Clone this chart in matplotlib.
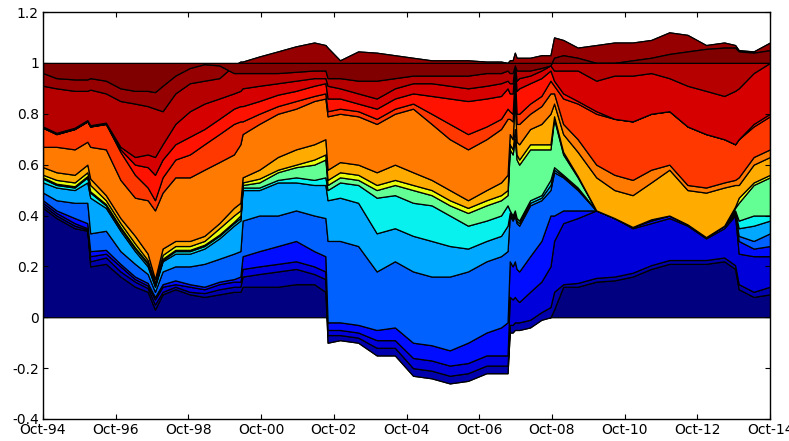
import numpy as np
import matplotlib
matplotlib.use("Agg")
import matplotlib.pyplot as plt

plt.rcParams['font.family'] = ['DejaVu Sans']

# sample dates (fractional years)
years = [1994.75, 1995.12, 1995.62, 1995.97, 1996.05, 1996.48, 1996.88, 1997.28, 1997.63, 1997.83,
         1998.04, 1998.39, 1998.79, 1999.19, 1999.60, 2000.00, 2000.18, 2000.24, 2000.70, 2001.21,
         2001.71, 2002.21, 2002.52, 2002.58, 2002.92, 2003.42, 2003.93, 2004.43, 2004.93, 2005.44,
         2005.94, 2006.44, 2006.95, 2007.35, 2007.53, 2007.59, 2007.67, 2007.73, 2007.78, 2007.85,
         2008.15, 2008.46, 2008.71,
         2008.81, 2009.06, 2009.46, 2009.97, 2010.47, 2010.97, 2011.48, 2011.98, 2012.48, 2012.99,
         2013.49, 2013.79, 2013.89, 2014.30, 2014.75]

# cumulative weight levels, one array per asset (bottom asset first)
b01 = [.43, .39, .35, .34, .20, .21, .16, .12, .10, .03,
       .09, .11, .09, .08, .09, .10, .10, .12, .12, .12,
       .13, .13, .10, -.10, -.09, -.10, -.15, -.15, -.23, -.24,
       -.26, -.25, -.22, -.22, -.22, -.06, -.06, -.05, -.05, -.05,
       -.04, -.01, .00,
       .03, .12, .12, .14, .145, .16, .19, .21, .21, .21,
       .22, .19, .11, .08, .09]
b02 = [.44, .40, .36, .345, .22, .235, .18, .14, .115, .05,
       .10, .12, .10, .095, .11, .12, .12, .16, .17, .18,
       .19, .17, .15, -.07, -.07, -.08, -.12, -.12, -.20, -.21,
       -.23, -.22, -.19, -.19, -.19, -.03, -.03, -.02, -.02, -.02,
       -.01, .02, .04,
       .10, .13, .135, .155, .16, .175, .205, .225, .225, .225,
       .235, .205, .13, .10, .12]
b03 = [.45, .41, .37, .35, .24, .25, .20, .15, .125, .07,
       .12, .13, .12, .11, .13, .14, .14, .19, .20, .21,
       .22, .20, .18, -.05, -.05, -.06, -.09, -.09, -.16, -.17,
       -.19, -.18, -.15, -.15, -.15, .08, .07, .08, .07, .06,
       .10, .14, .20,
       .30, .37, .39, .42, .39, .35, .37, .39, .36, .31,
       .35, .40, .25, .24, .24]
b04 = [.46, .42, .39, .37, .26, .265, .21, .16, .135, .08,
       .13, .145, .13, .12, .14, .15, .16, .24, .26, .28,
       .30, .26, .24, -.02, -.02, -.03, -.05, -.04, -.10, -.11,
       -.13, -.10, -.06, -.04, -.02, .22, .20, .22, .19, .18,
       .24, .30, .40,
       .40, .42, .42, .42, .39, .355, .38, .40, .365, .315,
       .36, .405, .30, .27, .28]
b05 = [.49, .46, .45, .45, .33, .34, .26, .21, .17, .10,
       .18, .20, .20, .21, .23, .25, .26, .38, .40, .40,
       .42, .40, .39, .30, .30, .28, .18, .22, .18, .16,
       .16, .18, .22, .24, .26, .40, .38, .40, .37, .36,
       .44, .46, .50,
       .57, .55, .50, .42, .39, .355, .385, .40, .365, .315,
       .36, .41, .32, .30, .33]
b06 = [.53, .51, .50, .53, .47, .43, .34, .26, .20, .12,
       .22, .25, .25, .27, .31, .36, .38, .50, .50, .53,
       .53, .52, .52, .46, .47, .45, .33, .35, .32, .30,
       .28, .27, .30, .32, .36, .41, .39, .41, .38, .37,
       .45, .47, .52,
       .58, .555, .505, .42, .39, .355, .385, .40, .365, .315,
       .36, .415, .35, .36, .38]
b07 = [.545, .52, .51, .55, .49, .44, .35, .27, .21, .125,
       .225, .26, .26, .28, .32, .37, .39, .51, .51, .54,
       .55, .54, .55, .50, .53, .52, .47, .48, .45, .44,
       .40, .36, .38, .40, .44, .42, .40, .42, .39, .38,
       .46, .48, .54,
       .59, .56, .51, .42, .39, .355, .385, .40, .365, .315,
       .36, .42, .38, .40, .40]
b08 = [.55, .525, .515, .555, .495, .445, .355, .275, .215, .13,
       .23, .265, .265, .285, .325, .375, .40, .52, .53, .57,
       .59, .60, .62, .52, .55, .54, .50, .52, .50, .48,
       .44, .41, .44, .46, .48, .66, .64, .70, .62, .60,
       .66, .66, .66,
       .78, .64, .55, .42, .39, .355, .385, .40, .365, .315,
       .36, .43, .45, .52, .55]
b09 = [.56, .54, .53, .57, .52, .46, .37, .29, .225, .135,
       .245, .28, .28, .30, .35, .40, .42, .53, .545, .58,
       .60, .62, .64, .54, .57, .56, .52, .54, .52, .50,
       .46, .43, .46, .48, .50, .68, .66, .74, .64, .62,
       .68, .68, .68,
       .79, .65, .555, .42, .39, .355, .385, .40, .365, .315,
       .36, .435, .47, .53, .56]
b10 = [.59, .57, .56, .60, .545, .48, .39, .32, .25, .15,
       .27, .30, .30, .32, .37, .43, .45, .55, .58, .63,
       .66, .68, .70, .58, .61, .60, .57, .60, .57, .54,
       .50, .46, .50, .53, .56, .72, .70, .86, .69, .68,
       .74, .76, .80,
       .84, .72, .65, .55, .50, .48, .53, .58, .50, .49,
       .51, .52, .52, .60, .63]
b11 = [.67, .67, .66, .69, .67, .66, .54, .47, .46, .42,
       .49, .55, .55, .58, .61, .64, .68, .72, .76, .80,
       .82, .85, .86, .79, .80, .79, .76, .80, .82, .76,
       .70, .66, .70, .74, .78, .78, .77, .93, .76, .76,
       .80, .83, .88,
       .88, .76, .70, .60, .56, .54, .58, .60, .52, .51,
       .53, .54, .55, .63, .66]
b12 = [.745, .72, .74, .77, .75, .76, .65, .56, .51, .46,
       .55, .62, .64, .68, .72, .76, .77, .77, .80, .83,
       .85, .87, .88, .81, .82, .81, .78, .82, .84, .80,
       .76, .72, .75, .78, .82, .81, .80, .96, .80, .80,
       .84, .87, .93,
       .91, .86, .84, .80, .78, .77, .80, .81, .75, .72,
       .70, .68, .70, .75, .79]
b13 = [.745, .72, .74, .77, .75, .76, .66, .60, .59, .56,
       .62, .68, .71, .74, .78, .82, .83, .83, .85, .875,
       .89, .91, .92, .86, .86, .84, .82, .86, .88, .87,
       .86, .85, .86, .87, .90, .88, .88, .99, .89, .90,
       .92, .94, .97,
       .93, .88, .85, .81, .78, .77, .80, .81, .75, .72,
       .70, .68, .70, .76, .80]
b14 = [.75, .725, .745, .775, .755, .765, .67, .63, .64, .63,
       .68, .76, .81, .84, .86, .88, .89, .90, .91, .92,
       .93, .94, .94, .91, .90, .88, .86, .90, .92, .92,
       .91, .90, .91, .92, .93, .92, .92, 1.0, .93, .94,
       .95, .97, .99,
       .97, .97, .97, .93, .95, .95, .96, .94, .91, .89,
       .87, .89, .90, .96, 1.0]
b15 = [.91, .90, .89, .89, .895, .88, .85, .84, .83, .82,
       .81, .88, .92, .93, .94, .99, 1.005, 1.005, 1.025, 1.045,
       1.065, 1.08, 1.07, 1.06, 1.01, 1.045, 1.04, 1.03, 1.02, 1.01,
       1.01, 1.01, 1.005, 1.005, 1.0, 1.01, 1.01, 1.04, 1.02, 1.02,
       1.02, 1.03, 1.03,
       1.10, 1.09, 1.06, 1.07, 1.08, 1.08, 1.09, 1.12, 1.11, 1.07,
       1.08, 1.07, 1.05, 1.045, 1.08]
b16 = [.96, .94, .935, .935, .94, .93, .90, .89, .89, .885,
       .91, .95, .98, .995, .99, .96, .96, .96, .96, .96,
       .965, .97, .97, .94, .94, .93, .93, .94, .95, .95,
       .95, .95, .96, .96, .97, .96, .96, .99, .97, .97,
       .97, .98, .99,
       1.02, 1.03, 1.02, 1.00, 1.00, 1.01, 1.02, 1.035, 1.045, 1.055,
       1.06, 1.06, 1.045, 1.04, 1.05]

x_tick_labels = ['Oct-94', 'Oct-96', 'Oct-98', 'Oct-00', 'Oct-02', 'Oct-04',
                 'Oct-06', 'Oct-08', 'Oct-10', 'Oct-12', 'Oct-14']
y_tick_values = [-0.4, -0.2, 0, 0.2, 0.4, 0.6, 0.8, 1.0, 1.2]
y_tick_labels = ['-0.4', '-0.2', '0', '0.2', '0.4', '0.6', '0.8', '1', '1.2']

bounds = [b01, b02, b03, b04, b05, b06, b07, b08, b09, b10, b11, b12, b13, b14, b15, b16]
# position of each asset's colour along the jet colormap
jet_pos = [0.0, 0.04, 0.08, 0.14, 0.22, 0.29, 0.36, 0.47, 0.63, 0.73,
           0.78, 0.85, 0.89, 0.925, 0.95, 0.98, 1.0]

t = np.array(years)
levels = [np.zeros_like(t)] + [np.array(b, dtype=float) for b in bounds] + [np.ones_like(t)]

W, H = 789, 441
fig = plt.figure(figsize=(W / 100, H / 100), dpi=100)
ax = fig.add_axes([43 / W, 1 - 419 / H, (770 - 43) / W, (419 - 12) / H])

# stacked patches drawn in order, each between consecutive cumulative levels
for k in range(1, len(levels)):
    ax.fill_between(t, levels[k - 1], levels[k],
                    facecolor=plt.cm.jet(jet_pos[k - 1]),
                    edgecolor='black', linewidth=0.9)

ax.set_xlim(1994.75, 2014.75)
ax.set_ylim(-0.4, 1.2)
ax.set_xticks(np.arange(1994.75, 2014.76, 2.0))
ax.set_xticklabels(x_tick_labels)
ax.set_yticks(y_tick_values)
ax.set_yticklabels(y_tick_labels)
ax.tick_params(direction='in', top=True, right=True, length=3.5, width=0.8,
               labelsize=10, pad=3)
for s in ax.spines.values():
    s.set_linewidth(1.0)

fig.savefig('out.png', dpi=100)
